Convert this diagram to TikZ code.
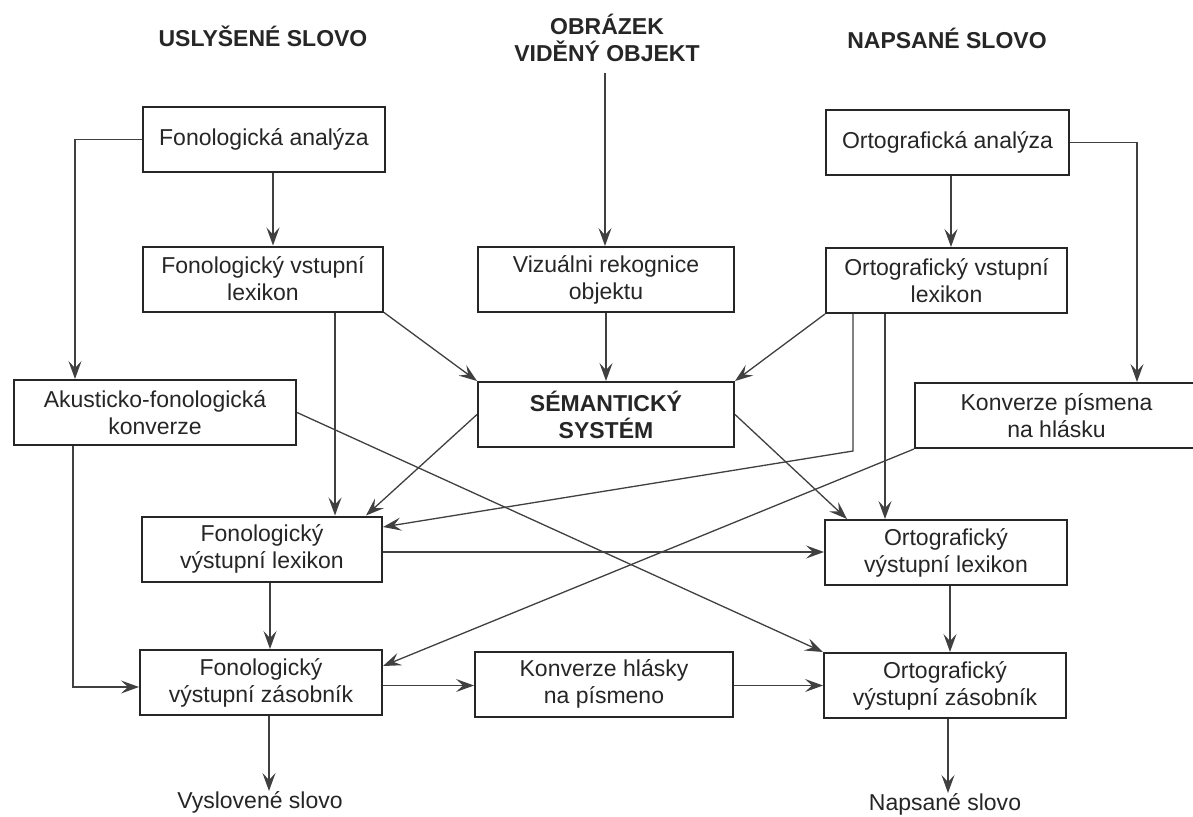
\documentclass[tikz,border=0pt]{standalone}
\usepackage{fontspec}
\setmainfont{Liberation Sans}
\usetikzlibrary{arrows.meta,calc}
\definecolor{ink}{HTML}{262626}
\definecolor{wire}{HTML}{404040}
\begin{document}
\begin{tikzpicture}[x=1pt,y=-1pt,
  box/.style={draw=ink,line width=2pt,minimum height=65pt,inner sep=0pt,align=center,
    font=\fontsize{23}{27}\selectfont,text=ink},
  ttl/.style={font=\fontsize{23}{27}\selectfont\bfseries,align=center,text=ink,inner sep=0pt},
  outtxt/.style={font=\fontsize{23}{27}\selectfont,text=ink,inner sep=0pt},
  arr/.style={draw=wire,line width=1.3pt,-{Stealth[length=18pt,width=13pt,inset=7pt]}},
  wireline/.style={draw=wire,line width=1.3pt}]
\useasboundingbox (0,0) rectangle (1193,816);
\fill[white] (0,0) rectangle (1193,816);

% titles
\node[ttl] (US) at (263,36) {USLYŠENÉ SLOVO};
\node[ttl] (OBR) at (607,38) {OBRÁZEK\\VIDĚNÝ OBJEKT};
\node[ttl] (NS0) at (947,38) {NAPSANÉ SLOVO};
\coordinate (obrS) at (605,73);

% boxes
\node[box,minimum width=242pt] (FA)  at (264,139.5) {Fonologická analýza};
\node[box,minimum width=240pt] (FVL) at (263,279) {Fonologický vstupní\\lexikon};
\node[box,minimum width=256pt] (VRO) at (606,279.5) {Vizuálni rekognice\\objektu};
\node[box,minimum width=243pt] (OA)  at (947.5,142.5) {Ortografická analýza};
\node[box,minimum width=241pt] (OVL) at (946.5,280.5) {Ortografický vstupní\\lexikon};
\node[box,minimum width=282pt] (AFK) at (155,412.5) {Akusticko-fonologická\\konverze};
\node[box,minimum width=256pt,font=\fontsize{23}{27}\selectfont\bfseries] (SS) at (606,414.5) {SÉMANTICKÝ\\SYSTÉM};
\node[box,minimum width=290pt] (KPH) at (1060,415.5) {\hspace*{-7pt}Konverze písmena\\\hspace*{-7pt}na hlásku};
\node[box,minimum width=240pt] (FVyL) at (262,549) {Fonologický\\výstupní lexikon};
\node[box,minimum width=242pt] (OVyL) at (946,552.5) {Ortografický\\výstupní lexikon};
\node[box,minimum width=242pt] (FVZ) at (261,682.5) {Fonologický\\výstupní zásobník};
\node[box,minimum width=258pt] (KHP) at (604,684) {Konverze hlásky\\na písmeno};
\node[box,minimum width=242pt] (OVZ) at (945,685.5) {Ortografický\\výstupní zásobník};

% outputs
\node[outtxt,anchor=north] (VS) at (260,791) {Vyslovené slovo};
\node[outtxt,anchor=north] (NS) at (945,793) {Napsané slovo};

% connectors
\draw[arr] (FA.west) -| ([xshift=62]AFK.north west);
\draw[arr] ([xshift=9]FA.south) -- ([xshift=9]FA.south |- FVL.north);
\draw[arr] (obrS) -- (obrS |- VRO.north);
\draw[arr] (OA.east) -| ([xshift=223]KPH.north west);
\draw[arr] ([xshift=3.5]OA.south) -- ([xshift=3.5]OA.south |- OVL.north);
\draw[arr] (FVL.south east) -- (SS.north west);
\draw[arr] (VRO.south) -- (SS.north);
\draw[arr] (OVL.south west) -- (SS.north east);
\draw[arr] ([xshift=72]FVL.south) -- ([xshift=72]FVL.south |- FVyL.north);
\draw[arr] (SS.west) -- ([xshift=-17]FVyL.north east);
\draw[arr] (AFK.east) -- (OVZ.north west);
\draw[arr] (SS.east) -- ([xshift=23]OVyL.north west);
\draw[arr] ([xshift=-93.5]OVL.south) -- ++(0,137) -- ([yshift=22]FVyL.east);
\draw[arr] ([xshift=-61.5]OVL.south) -- ([xshift=-61.5]OVL.south |- OVyL.north);
\draw[arr] (KPH.south west) -- ([yshift=16.5]FVZ.east);
\draw[arr] ([yshift=-3]FVyL.east) -- ([yshift=-3]FVyL.east -| OVyL.west);
\draw[arr] ([xshift=-82]AFK.south) |- ([yshift=-4.5]FVZ.west);
\draw[arr] ([xshift=8]FVyL.south) -- ([xshift=8]FVyL.south |- FVZ.north);
\draw[arr] ([yshift=-3]FVZ.east) -- ([yshift=-3]FVZ.east -| KHP.west);
\draw[arr] ([yshift=-1.5]KHP.east) -- ([yshift=-1.5]KHP.east -| OVZ.west);
\draw[arr] ([xshift=4]OVyL.south) -- ([xshift=4]OVyL.south |- OVZ.north);
\draw[arr] ([xshift=8]FVZ.south) -- ([xshift=8]FVZ.south |- VS.north);
\draw[arr] ([xshift=3]OVZ.south) -- ([xshift=3]OVZ.south |- NS.north);
\end{tikzpicture}
\end{document}
